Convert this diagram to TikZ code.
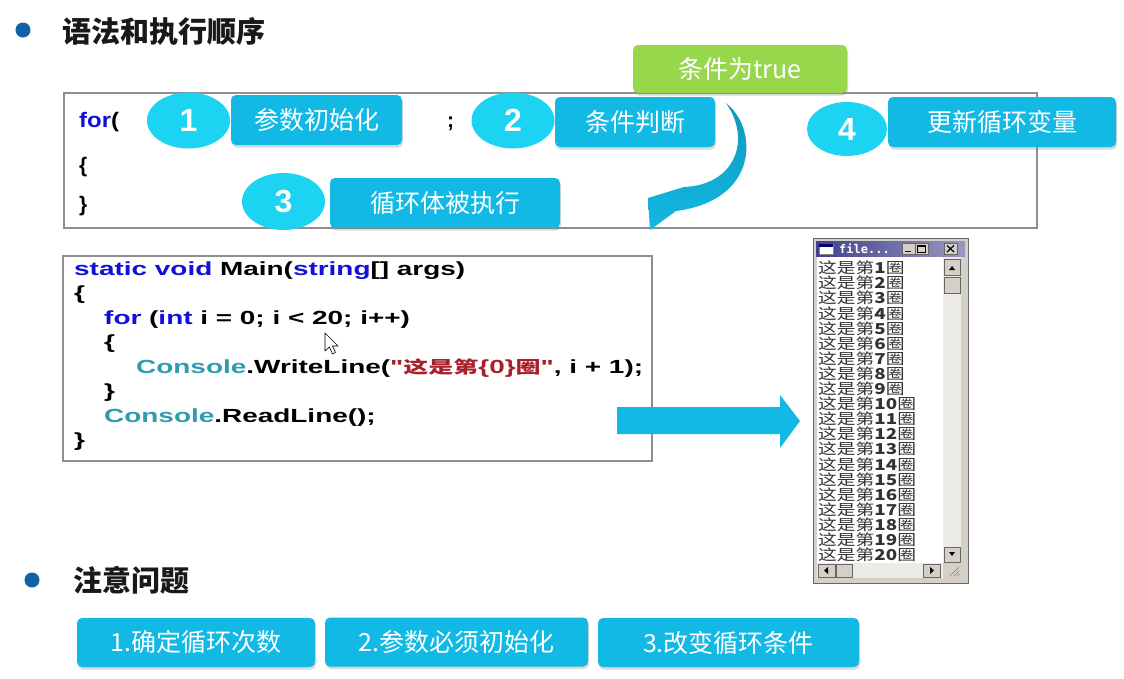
\documentclass[tikz,border=0pt]{standalone}
\usepackage{fontspec}
\setmainfont{Liberation Sans}
\newfontfamily\cjk{Noto Sans CJK SC}
\newfontfamily\winmono{DejaVu Sans Mono}
\usetikzlibrary{shapes.geometric,shadows}
\definecolor{boxblue}{HTML}{12B9E4}
\definecolor{ballcyan}{HTML}{1CD4F2}
\definecolor{truegreen}{HTML}{96D74B}
\definecolor{bulletblue}{HTML}{1262A8}
\definecolor{kwblue}{HTML}{1010D8}
\definecolor{typeteal}{HTML}{2E9BAF}
\definecolor{strred}{HTML}{A8202C}
\definecolor{framegray}{HTML}{8E8E8E}
\definecolor{winface}{HTML}{D4D0C8}
\definecolor{wintrack}{HTML}{ECEBE6}
\newcommand{\kw}[1]{\textcolor{kwblue}{#1}}
\newcommand{\ty}[1]{\textcolor{typeteal}{#1}}
\newcommand{\zh}[1]{{\cjk\fontsize{17}{19}\selectfont #1}}
\newcommand{\wide}[1]{\scalebox{1.47}[1]{#1}}
\newcommand{\qt}{\XeTeXglyph\XeTeXcharglyph"22\relax}

\begin{document}
\begin{tikzpicture}[x=1pt,y=-1pt,
  heading/.style={anchor=west,inner sep=0pt,text=black!90,font=\cjk\bfseries\fontsize{29}{29}\selectfont},
  tagbox/.style={rounded corners=5pt,fill=boxblue,text=white,inner sep=0pt,minimum height=50pt,font=\cjk\fontsize{25}{25}\selectfont,drop shadow={shadow xshift=1pt,shadow yshift=-2.5pt,opacity=0.3}},
  numball/.style={ellipse,fill=ballcyan,text=white,inner sep=0pt,minimum width=83pt,minimum height=56pt,font=\bfseries\fontsize{32}{32}\selectfont},
  codeline/.style={anchor=base west,inner sep=0pt,font=\bfseries\fontsize{19}{19}\selectfont},
  conline/.style={anchor=west,inner sep=0pt,text=black!80,font=\cjk\fontsize{15}{15}\selectfont},
  panel/.style={draw=framegray,line width=1.5pt,fill=white},
  winbtn/.style={fill=winface,draw=black!60}]
\fill[white] (0,0) rectangle (1124,678);
\useasboundingbox (0,0) rectangle (1124,678);

\fill[bulletblue] (23,30) circle (7.5);
\node[heading] (syntax) at (62,31) {语法和执行顺序};

\draw[panel] (64,93) rectangle (1037,228);
\node[codeline,font=\bfseries\fontsize{21}{21}\selectfont] (forkw) at (79,127) {\scalebox{1.14}[1]{\kw{for}(}};
\node[codeline,font=\bfseries\fontsize{21}{21}\selectfont] (open) at (79,172) {\{};
\node[codeline,font=\bfseries\fontsize{21}{21}\selectfont] (close) at (79,211) {\}};
\node[codeline,font=\bfseries\fontsize{21}{21}\selectfont] (semi) at (447,127) {;};

\node[numball] (n1) at (188.5,120.5) {1};
\node[tagbox,minimum width=171pt] (init) at (316.5,120) {参数初始化};
\node[numball] (n2) at (513,120.5) {2};
\node[tagbox,minimum width=160pt] (test) at (635,122) {条件判断};
\node[tagbox,fill=truegreen,minimum width=214pt,minimum height=48pt] (istrue) at (740,69) {条件为true};
\node[numball,minimum width=80pt,minimum height=54pt] (n4) at (847,129) {4};
\node[tagbox,minimum width=228pt] (update) at (1002,122) {更新循环变量};
\node[numball,minimum height=57pt] (n3) at (283.5,201.5) {3};
\node[tagbox,minimum width=230pt] (body) at (445,203) {循环体被执行};

\shade[top color=black!18!boxblue,bottom color=boxblue] (650,230) -- (648,198) -- (684,187)
  .. controls (735,185) and (752,140) .. (726,103)
  .. controls (758,128) and (760,200) .. (676,211) -- cycle;

\draw[panel] (63,256) rectangle (652,461);
\node[codeline] (sig) at (74,275) {\wide{\kw{static} \kw{void} Main(\kw{string}[] args)}};
\node[codeline] (ob1) at (74,299.5) {\wide{\{}};
\node[codeline] (loop) at (104,324) {\wide{\kw{for} (\kw{int} i = 0; i < 20; i++)}};
\node[codeline] (ob2) at (104,348.5) {\wide{\{}};
\node[codeline] (write) at (136,373) {\wide{\ty{Console}.WriteLine(\textcolor{strred}{\qt\zh{这是第}\{0\}\zh{圈}\qt}, i + 1);}};
\node[codeline] (cb2) at (104,397.5) {\wide{\}}};
\node[codeline] (read) at (104,422) {\wide{\ty{Console}.ReadLine();}};
\node[codeline] (cb1) at (74,446.5) {\wide{\}}};
\filldraw[fill=white,draw=black,line width=0.6pt,line join=round] (325,333) -- (325,351) -- (329.5,347)
  -- (332.5,354) -- (335.5,352.5) -- (332.5,346) -- (338,346) -- cycle;

\fill[boxblue] (617,407) -- (780,407) -- (780,395) -- (800,421) -- (780,448) -- (780,434) -- (617,434) -- cycle;

\filldraw[fill=winface,draw=black!60] (813,238) rectangle (968,583);
\shade[left color=blue!40!black!75,right color=blue!20!white!75!black] (816,241) rectangle (965,256);
\filldraw[fill=white,draw=black!50] (819,244) rectangle (833,254);
\fill[blue!50!black] (819,244) rectangle (833,246.5);
\node[anchor=west,inner sep=0pt,text=white,font=\winmono\bfseries\fontsize{12}{12}\selectfont] (wintitle) at (839,248.5) {file...};
\foreach \bx in {902,915,944}
  \filldraw[winbtn] (\bx,243) rectangle ++(13,11);
\draw[line width=1.5pt] (905,251.5) -- (911,251.5);
\draw[line width=0.8pt] (917.5,245.5) rectangle (925.5,252);
\draw[line width=1.5pt] (917.5,246) -- (925.5,246);
\draw[line width=1.2pt] (947,245.5) -- (954,252) (947,252) -- (954,245.5);
\fill[white] (817,257) rectangle (943,563);
\fill[wintrack] (943,257) rectangle (961,563);
\filldraw[winbtn] (944,259) rectangle (960,275);
\fill (949,270) -- (955,270) -- (952,266) -- cycle;
\filldraw[winbtn] (944,277) rectangle (960,293);
\filldraw[winbtn] (944,547) rectangle (960,562);
\fill (949,552) -- (955,552) -- (952,556) -- cycle;
\fill[wintrack] (817,563) rectangle (943,578);
\filldraw[winbtn] (818,564) rectangle (835,577);
\fill (824,570.5) -- (828,567) -- (828,574) -- cycle;
\filldraw[winbtn] (836,564) rectangle (852,577);
\filldraw[winbtn] (923,564) rectangle (940,577);
\fill (934,570.5) -- (930,567) -- (930,574) -- cycle;
\draw[black!50] (950,576) -- (959,567) (954,576) -- (959,571) (957.5,576) -- (959.5,574);
\foreach \i in {1,...,20}
  \node[conline] (out\i) at (818,{268+15.1*(\i-1)}) {\scalebox{1.25}[1]{这是第{\bfseries\i}圈}};

\fill[bulletblue] (32,580) circle (7.5);
\node[heading] (notes) at (73,580.5) {注意问题};
\node[tagbox,minimum width=238pt,minimum height=49pt] (tip1) at (196,642.5) {1.确定循环次数};
\node[tagbox,minimum width=263pt,minimum height=49pt] (tip2) at (456.5,642) {2.参数必须初始化};
\node[tagbox,minimum width=261pt,minimum height=49pt] (tip3) at (728.5,642.5) {3.改变循环条件};
\end{tikzpicture}
\end{document}
